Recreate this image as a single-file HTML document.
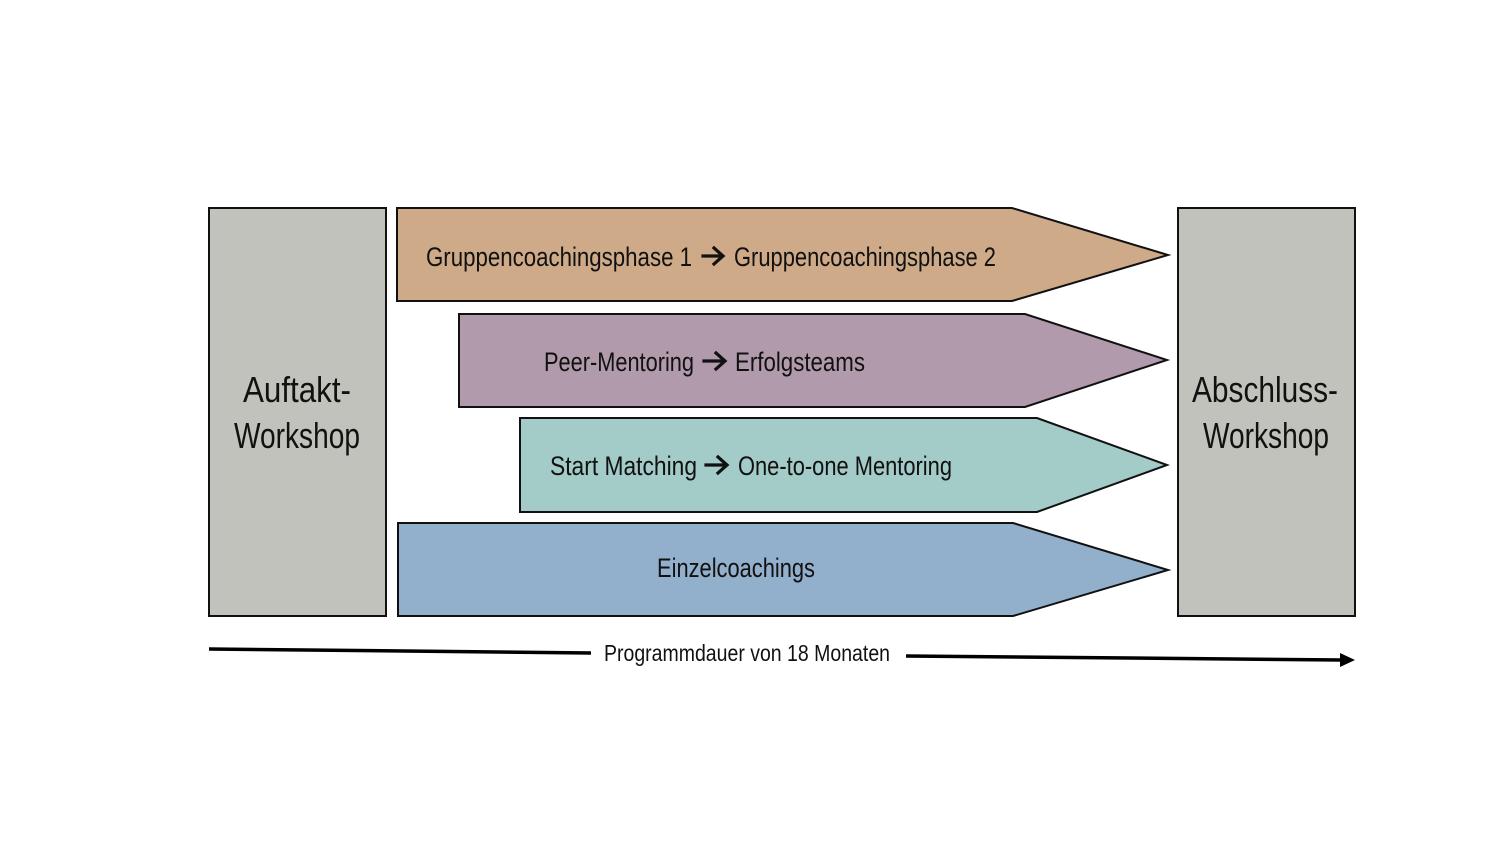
<!DOCTYPE html>
<html><head><meta charset="utf-8"><style>html,body{margin:0;padding:0;background:#fff}svg{display:block}text{font-family:"Liberation Sans Narrow","Liberation Sans",sans-serif;fill:#111}</style></head>
<body>
<svg width="1506" height="848" viewBox="0 0 1506 848" xmlns="http://www.w3.org/2000/svg">
<g stroke="#111" stroke-width="2">
<rect x="209" y="208" width="177" height="408" fill="#c0c2bb"/>
<rect x="1178" y="208" width="177" height="408" fill="#c0c2bb"/>
<polygon points="397,208 1012,208 1168,255 1012,301 397,301" fill="#cfaa89"/>
<polygon points="459,314 1025,314 1167,360 1025,407 459,407" fill="#b29aad"/>
<polygon points="520,418 1037,418 1167,465 1037,512 520,512" fill="#a3cbc8"/>
<polygon points="398,523 1013,523 1168,570 1013,616 398,616" fill="#92b0cc"/>
</g>
<g font-size="27">
<text x="426" y="266" textLength="266" lengthAdjust="spacingAndGlyphs">Gruppencoachingsphase  1</text>
<text x="734" y="266" textLength="262" lengthAdjust="spacingAndGlyphs">Gruppencoachingsphase 2</text>
<text x="544" y="371" textLength="150" lengthAdjust="spacingAndGlyphs">Peer-Mentoring</text>
<text x="735" y="371" textLength="130" lengthAdjust="spacingAndGlyphs">Erfolgsteams</text>
<text x="550" y="475" textLength="147" lengthAdjust="spacingAndGlyphs">Start Matching</text>
<text x="738" y="475" textLength="214" lengthAdjust="spacingAndGlyphs">One-to-one Mentoring</text>
<text x="657" y="577" textLength="158" lengthAdjust="spacingAndGlyphs">Einzelcoachings</text>
</g>
<g stroke="#111" stroke-width="3.2" fill="none" stroke-linecap="square">
<path d="M703 256 H722 M714 248 L723 256 L714 264"/>
<path d="M704 361 H724 M716 353 L725 361 L716 369"/>
<path d="M706 465 H726 M718 457 L727 465 L718 473"/>
</g>
<g font-size="36">
<text x="243" y="402" textLength="108" lengthAdjust="spacingAndGlyphs">Auftakt-</text>
<text x="234" y="448" textLength="126" lengthAdjust="spacingAndGlyphs">Workshop</text>
<text x="1192" y="402" textLength="146" lengthAdjust="spacingAndGlyphs">Abschluss-</text>
<text x="1203" y="448" textLength="126" lengthAdjust="spacingAndGlyphs">Workshop</text>
</g>
<text x="604" y="661" font-size="23" textLength="286" lengthAdjust="spacingAndGlyphs">Programmdauer von 18 Monaten</text>
<g stroke="#000" stroke-width="3.5" fill="none">
<line x1="209" y1="649" x2="591" y2="653"/>
<line x1="906" y1="656" x2="1342" y2="660"/>
</g>
<polygon points="1355,660 1340,653 1340,667" fill="#000"/>
</svg>
</body></html>
